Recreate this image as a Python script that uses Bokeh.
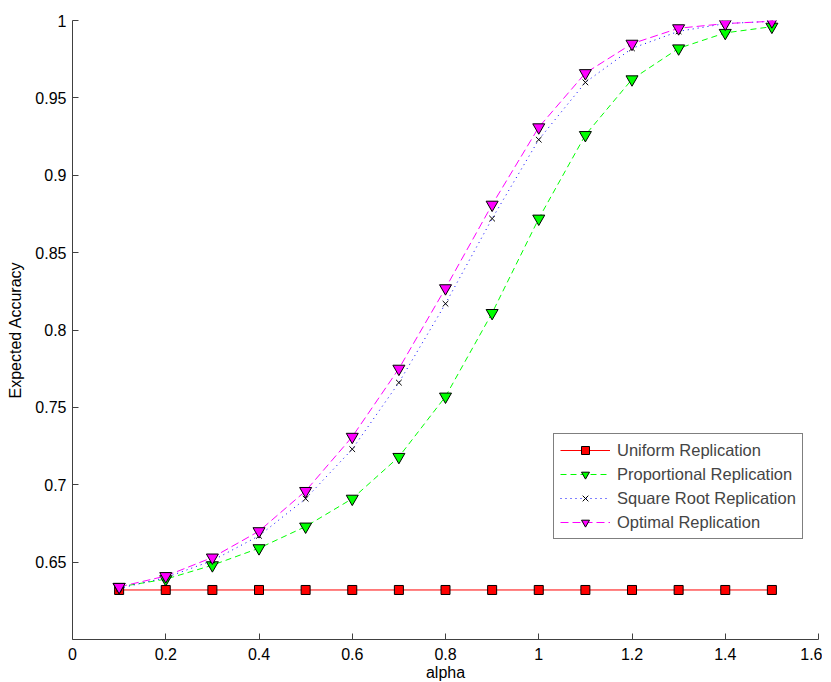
from bokeh.plotting import figure
from bokeh.models import Range1d, FixedTicker, Legend, LegendItem
from bokeh.embed import file_html
from bokeh.resources import INLINE

alpha = [0.1, 0.2, 0.3, 0.4, 0.5, 0.6, 0.7, 0.8, 0.9, 1.0, 1.1, 1.2, 1.3, 1.4, 1.5]
uniform = [0.632, 0.632, 0.632, 0.632, 0.632, 0.632, 0.632, 0.632, 0.632, 0.632, 0.632, 0.632, 0.632, 0.632, 0.632]
proportional = [0.634, 0.639, 0.648, 0.659, 0.673, 0.691, 0.718, 0.757, 0.811, 0.872, 0.926, 0.962, 0.982, 0.992, 0.996]
square_root = [0.633, 0.640, 0.651, 0.667, 0.691, 0.723, 0.766, 0.817, 0.872, 0.923, 0.960, 0.982, 0.993, 0.998, 0.9995]
optimal = [0.634, 0.641, 0.653, 0.670, 0.696, 0.731, 0.775, 0.827, 0.881, 0.931, 0.966, 0.985, 0.995, 0.998, 0.9995]

x_ticks = [0, 0.2, 0.4, 0.6, 0.8, 1.0, 1.2, 1.4, 1.6]
x_tick_labels = ["0", "0.2", "0.4", "0.6", "0.8", "1", "1.2", "1.4", "1.6"]
y_ticks = [0.65, 0.7, 0.75, 0.8, 0.85, 0.9, 0.95, 1.0]
y_tick_labels = ["0.65", "0.7", "0.75", "0.8", "0.85", "0.9", "0.95", "1"]

FONT = "Liberation Sans"

p = figure(frame_width=746, frame_height=619,
           x_range=Range1d(0, 1.6), y_range=Range1d(0.6, 1.0),
           output_backend="svg", toolbar_location=None,
           min_border_left=72, min_border_right=4, min_border_top=20, min_border_bottom=20)
p.outline_line_color = None
p.xgrid.grid_line_color = None
p.ygrid.grid_line_color = None
p.background_fill_color = "white"
p.border_fill_color = "white"

for ax, ticks, labels in ((p.xaxis[0], x_ticks, x_tick_labels), (p.yaxis[0], y_ticks, y_tick_labels)):
    ax.ticker = FixedTicker(ticks=ticks)
    ax.major_label_overrides = {t: l for t, l in zip(ticks, labels)}
    ax.major_tick_in = 6
    ax.major_tick_out = 0
    ax.minor_tick_line_color = None
    ax.axis_line_color = "#404040"
    ax.major_tick_line_color = "#404040"
    ax.major_label_text_font = FONT
    ax.major_label_text_font_size = "16px"
    ax.major_label_text_color = "black"
    ax.axis_label_text_font = FONT
    ax.axis_label_text_font_size = "16px"
    ax.axis_label_text_font_style = "normal"
    ax.axis_label_text_color = "black"

p.xaxis[0].axis_label = "alpha"
p.xaxis[0].major_label_standoff = 8
p.xaxis[0].axis_label_standoff = 1
p.yaxis[0].axis_label = "Expected Accuracy"
p.yaxis[0].major_label_standoff = 6
p.yaxis[0].axis_label_standoff = 8

l1 = p.line(alpha, uniform, line_color="#ff0000", line_width=1)
m1 = p.scatter(alpha, uniform, marker="square", size=9, fill_color="#ff0000", line_color="black", line_width=1)

l2 = p.line(alpha, proportional, line_color="#00ff00", line_width=1, line_dash="6 4")
m2 = p.scatter(alpha, proportional, marker="inverted_triangle", size=12, fill_color="#00ff00", line_color="black", line_width=1)

l3 = p.line(alpha, square_root, line_color="#0000ff", line_width=1, line_dash="1 4")
m3 = p.scatter(alpha, square_root, marker="x", size=8, line_color="black", line_width=1)

l4 = p.line(alpha, optimal, line_color="#ff00ff", line_width=1, line_dash="8 4")
m4 = p.scatter(alpha, optimal, marker="inverted_triangle", size=12, fill_color="#ff00ff", line_color="black", line_width=1)

legend = Legend(items=[
    LegendItem(label="Uniform Replication", renderers=[l1, m1]),
    LegendItem(label="Proportional Replication", renderers=[l2, m2]),
    LegendItem(label="Square Root Replication", renderers=[l3, m3]),
    LegendItem(label="Optimal Replication", renderers=[l4, m4]),
], location=(481, 100))
legend.border_line_color = "black"
legend.border_line_width = 1
legend.background_fill_alpha = 1
legend.label_text_font = FONT
legend.label_text_font_size = "16.5px"
legend.glyph_width = 50
legend.glyph_height = 20
legend.label_height = 20
legend.spacing = 4
legend.padding = 6
legend.margin = 0
legend.label_standoff = 7
p.add_layout(legend, "center")

open("out.html", "w").write(file_html(p, INLINE))
